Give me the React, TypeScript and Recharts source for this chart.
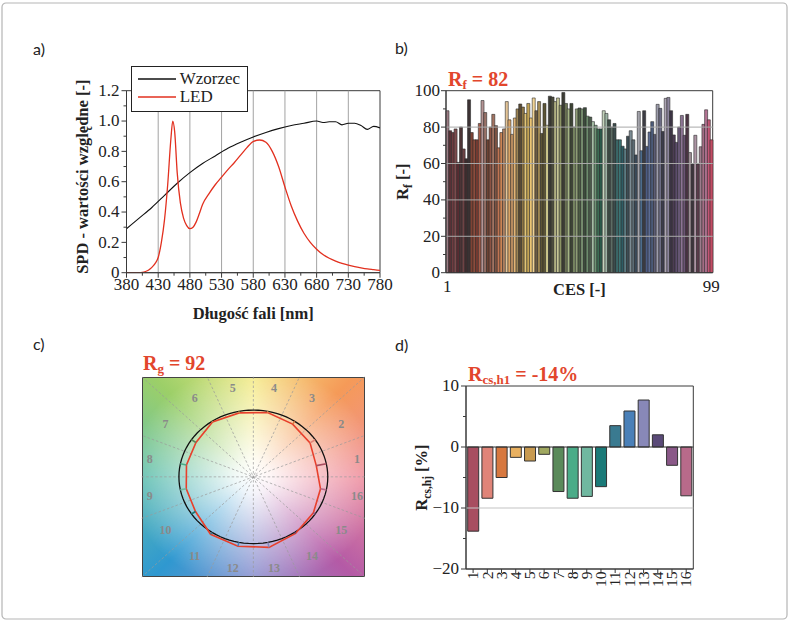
import React from "react";
import {
  ComposedChart,
  BarChart,
  Bar,
  Line,
  Scatter,
  XAxis,
  YAxis,
  CartesianGrid,
  ReferenceLine,
  Legend,
  Cell,
} from "recharts";

/* ---------------- a) SPD: reference vs LED ---------------- */
const REF_NM = [380, 400, 420, 440, 460, 480, 500, 520, 540, 560, 580, 600, 620, 640, 660, 680, 690, 700, 710, 720, 730, 740, 750, 760, 770, 780];
const REF_SPD = [0.29, 0.36, 0.43, 0.51, 0.59, 0.66, 0.72, 0.77, 0.82, 0.86, 0.895, 0.925, 0.95, 0.97, 0.985, 1.0, 0.99, 0.995, 0.995, 0.975, 0.985, 0.985, 0.97, 0.945, 0.965, 0.955];

const LED_NM = [380, 390, 400, 405, 410, 415, 420, 425, 430, 435, 440, 445, 450, 453, 456, 460, 465, 470, 475, 480, 485, 490, 495, 500, 510, 520, 530, 540, 550, 560, 570, 580, 590, 600, 610, 620, 630, 640, 650, 660, 670, 680, 690, 700, 710, 720, 730, 740, 750, 760, 770, 780];
const LED_SPD = [0, 0, 0, 0.002, 0.008, 0.018, 0.035, 0.06, 0.1, 0.2, 0.35, 0.58, 0.88, 1.0, 0.93, 0.66, 0.46, 0.36, 0.31, 0.29, 0.3, 0.335, 0.39, 0.45, 0.52, 0.58, 0.63, 0.68, 0.725, 0.775, 0.825, 0.865, 0.875, 0.86, 0.8, 0.7, 0.565, 0.44, 0.34, 0.26, 0.2, 0.155, 0.12, 0.095, 0.077, 0.062, 0.05, 0.04, 0.032, 0.025, 0.02, 0.015];

const SPD_SERIES = [
  { name: "Wzorzec", color: "#111111" },
  { name: "LED", color: "#e2301f" },
];

const SPD_X_MAJOR = [380, 430, 480, 530, 580, 630, 680, 730, 780];
const SPD_X_ALL = [380, 405, 430, 455, 480, 505, 530, 555, 580, 605, 630, 655, 680, 705, 730, 755, 780];
const SPD_Y_MAJOR = [0, 0.2, 0.4, 0.6, 0.8, 1.0, 1.2];
const SPD_Y_ALL = [0, 0.1, 0.2, 0.3, 0.4, 0.5, 0.6, 0.7, 0.8, 0.9, 1.0, 1.1, 1.2];

/* ---------------- b) Rf for the 99 CES ---------------- */
const CES_RF = [
  89, 78, 77, 79, 60.6, 80, 68, 62.6, 95, 77,
  73, 73, 82, 94.6, 88, 73, 80, 87, 80.8, 68.6,
  77, 79, 94, 84, 76, 85, 90, 92.7, 91, 87.5,
  93, 85, 96, 89, 94, 76.5, 93, 81, 97, 96.5,
  94, 96, 92, 99, 93, 90, 93, 80, 90, 90.5,
  90, 90.7, 86, 85.5, 83, 81, 79, 79, 89, 87.5,
  84, 80, 82, 73, 73, 69.5, 68, 75, 78, 73,
  64.7, 88.6, 67, 89, 69.4, 77.3, 83, 76, 92.5, 90.3,
  77.6, 95.8, 96.3, 89, 75.7, 71.6, 80, 86.4, 75.5, 87,
  66, 60, 75.5, 59.7, 69.2, 81.5, 89.5, 84, 73,
];
const CES_COLORS = [
  "#9c7c84", "#5c3238", "#6e3c40", "#7c4a4c", "#5a2c32", "#4c3436", "#6e4244", "#3e2c2e", "#3c3234", "#7e4234",
  "#8c4c3c", "#7c3c32", "#a45c48", "#b49494", "#9a7268", "#6c4232", "#8c5242", "#a47462", "#7c5242", "#c27452",
  "#cc8454", "#b48462", "#e4c496", "#daa464", "#c49464", "#e2b474", "#9c8454", "#5c4c34", "#8c7444", "#e2c474",
  "#c4a454", "#eac474", "#f2d494", "#6c5c44", "#a48c54", "#5c5434", "#5c5434", "#dad494", "#3c3c34", "#4c4c3c",
  "#b4b484", "#c4c494", "#8c9464", "#3c3c34", "#6c7454", "#a4b484", "#3c4434", "#7c8c64", "#8c9c74", "#4c5c44",
  "#7c9474", "#3c4c3c", "#6c8c6c", "#4c5c4c", "#a4bca4", "#6c9474", "#3c6c54", "#2c5c4c", "#c4d4bc", "#9cb4a4",
  "#3c4c44", "#5c6c64", "#3c4c4c", "#3c6c6c", "#3c7474", "#2c5c64", "#5c7c84", "#3c4c54", "#7c8c94", "#5c6c74",
  "#3c4c5c", "#a4a4ac", "#4c6c8c", "#3c3c44", "#4c5c84", "#5c6c94", "#4c5c7c", "#5c5c74", "#9c9cac", "#6c6c84",
  "#3c3c4c", "#aca4b4", "#8c849c", "#3c3444", "#4c3c54", "#5c4c6c", "#6c5c7c", "#8c7494", "#6c5474", "#4c3444",
  "#9c8c94", "#3c343c", "#ac94a4", "#5c3c4c", "#9c7c8c", "#a46c84", "#b47494", "#c45474", "#c44c64",
];
const RF_Y_ALL = [0, 10, 20, 30, 40, 50, 60, 70, 80, 90, 100];
const RF_Y_MAJOR = [0, 20, 40, 60, 80, 100];

/* ---------------- c/d) 16 hue bins ---------------- */
const HUE_BINS = [1, 2, 3, 4, 5, 6, 7, 8, 9, 10, 11, 12, 13, 14, 15, 16];
const RCS_HJ = [-13.8, -8.4, -5.0, -1.7, -2.3, -1.2, -7.3, -8.4, -8.1, -6.5, 3.5, 5.9, 7.7, 2.0, -3.0, -8.0];
const BIN_COLORS = [
  "#a84e60", "#e08478", "#d7783f", "#e8b060", "#c89a50", "#a0a860", "#5a8a5a", "#4aac88",
  "#70b8a0", "#1a7a78", "#3a7a90", "#4a80b8", "#8888b8", "#5a4a78", "#8a5888", "#b86a8a",
];
const RCS_Y_ALL = [-20, -15, -10, -5, 0, 5, 10];
const RCS_Y_MAJOR = [-20, -10, 0, 10];

const SERIF = "'Liberation Serif', 'Times New Roman', serif";
const AXIS = "#3a3a3a";
const RED = "#e2462c";

const refData = REF_NM.map((nm, i) => ({ nm, spd: REF_SPD[i] }));
const ledData = LED_NM.map((nm, i) => ({ nm, spd: LED_SPD[i] }));
const rfData = CES_RF.map((rf, i) => ({ ces: i + 1, rf }));
const rcsData = HUE_BINS.map((bin, i) => ({ bin, rcs: RCS_HJ[i] }));

// hue angle of the centre of bin i (radians, counter-clockwise from +x)
const binAngle = (i: number) => ((i + 0.5) * 22.5 * Math.PI) / 180;

// unit reference circle
const circleData = Array.from({ length: 96 }, (_, k) => {
  const a = (k / 96) * 2 * Math.PI;
  return { x: Math.cos(a), y: Math.sin(a) };
});
const testData = HUE_BINS.map((_, i) => {
  const r = 1 + RCS_HJ[i] / 100;
  return { x: r * Math.cos(binAngle(i)), y: r * Math.sin(binAngle(i)) };
});
const binLabels = HUE_BINS.map((bin, i) => {
  const r = 1.42;
  return {
    bin,
    x: r * Math.cos(binAngle(i)),
    y: Math.max(-1.36, Math.min(1.33, r * Math.sin(binAngle(i)))),
  };
});
const spokes = [0, 1, 2, 3, 4, 5, 6, 7].map((k) => {
  const a = (k * 22.5 * Math.PI) / 180;
  const t = 1.5 / Math.max(Math.abs(Math.cos(a)), Math.abs(Math.sin(a)));
  return [
    { x: -t * Math.cos(a), y: -t * Math.sin(a) },
    { x: t * Math.cos(a), y: t * Math.sin(a) },
  ];
});

/* ---------------- tick / title helpers ---------------- */
const isMajor = (v: number, majors: number[]) => majors.some((m) => Math.abs(m - v) < 1e-6);
const tickText = { fontFamily: SERIF };

// box around the plot area, taken from the chart offset
const frameRows = ({ offset }: any) => [offset.top, offset.top + offset.height];
const frameCols = ({ offset }: any) => [offset.left, offset.left + offset.width];

function leftTick(majors: number[], fmt: (v: number) => string, fontSize: number, gap: number) {
  return (props: any) => {
    const { x, y, payload } = props;
    const major = isMajor(payload.value, majors);
    return (
      <g>
        <line x1={x} x2={x - (major ? 5 : 3)} y1={y} y2={y} stroke={AXIS} />
        {major && (
          <text x={x - gap} y={y} dy="0.32em" textAnchor="end" style={tickText} fontFamily={SERIF} fontSize={fontSize} fill="#222">
            {fmt(payload.value)}
          </text>
        )}
      </g>
    );
  };
}

function bottomTick(majors: number[], fontSize: number, base: number, lines = true) {
  return (props: any) => {
    const { x, y, payload } = props;
    const major = isMajor(payload.value, majors);
    return (
      <g>
        {lines && <line x1={x} x2={x} y1={y} y2={y + (major ? 5 : 3)} stroke={AXIS} />}
        {major && (
          <text x={x} y={y + base} textAnchor="middle" style={tickText} fontFamily={SERIF} fontSize={fontSize} fill="#222">
            {payload.value}
          </text>
        )}
      </g>
    );
  };
}

function binTick(props: any) {
  const { x, y, payload } = props;
  const ty = y + 2.5;
  return (
    <g>
      <line x1={x} x2={x} y1={y} y2={y + 4} stroke={AXIS} />
      <text x={x} y={ty} dy="0.34em" transform={`rotate(-90 ${x} ${ty})`} textAnchor="end" style={tickText} fontFamily={SERIF} fontSize={15.5} fill="#222">
        {payload.value}
      </text>
    </g>
  );
}

function yTitle(content: React.ReactNode, dx: number, dy = 0) {
  return (props: any) => {
    const vb = props.viewBox || { x: 0, y: 0, width: 0, height: 0 };
    const cx = vb.x + dx;
    const cy = vb.y + vb.height / 2 + dy;
    return (
      <text x={cx} y={cy} dy="0.35em" transform={`rotate(-90 ${cx} ${cy})`} textAnchor="middle" style={tickText} fontFamily={SERIF} fontWeight="bold" fontSize={16.5} fill="#222">
        {content}
      </text>
    );
  };
}

function xTitle(content: React.ReactNode, dy: number) {
  return (props: any) => {
    const vb = props.viewBox || { x: 0, y: 0, width: 0, height: 0 };
    return (
      <text x={vb.x + vb.width / 2} y={vb.y + dy} textAnchor="middle" style={tickText} fontFamily={SERIF} fontWeight="bold" fontSize={16.5} fill="#222">
        {content}
      </text>
    );
  };
}

function SpdLegend() {
  return (
    <div style={{ width: 117, height: 46, boxSizing: "border-box", border: "1px solid #222", background: "#fff", paddingTop: 3 }}>
      {SPD_SERIES.map((s) => (
        <div key={s.name} style={{ display: "flex", alignItems: "center", height: 18 }}>
          <svg width={48} height={18}>
            <line x1={6} x2={44} y1={9} y2={9} stroke={s.color} strokeWidth={1.3} />
          </svg>
          <span style={{ fontFamily: SERIF, fontSize: 17, color: "#222", lineHeight: "18px" }}>{s.name}</span>
        </div>
      ))}
    </div>
  );
}

/* ---------------- panels ---------------- */
function SpdChart() {
  return (
    <ComposedChart width={345} height={275} margin={{ top: 35.7, right: 20, left: 21.5, bottom: 32.3 }}>
      <CartesianGrid stroke={AXIS} horizontalCoordinatesGenerator={frameRows} verticalCoordinatesGenerator={frameCols} />
      <XAxis
        type="number"
        dataKey="nm"
        domain={[380, 780]}
        ticks={SPD_X_ALL}
        interval={0}
        height={25}
        tickLine={false}
        tickSize={0}
        tickMargin={0}
        axisLine={{ stroke: AXIS }}
        tick={bottomTick(SPD_X_MAJOR, 17, 17.4)}
        label={xTitle("Długość fali [nm]", 46.5)}
        allowDataOverflow
      />
      <YAxis
        type="number"
        domain={[0, 1.2]}
        ticks={SPD_Y_ALL}
        interval={0}
        width={50}
        tickLine={false}
        tickSize={0}
        tickMargin={0}
        axisLine={{ stroke: AXIS }}
        tick={leftTick(SPD_Y_MAJOR, (v) => (v === 0 ? "0" : v.toFixed(1)), 17, 7)}
        label={yTitle("SPD - wartości względne [-]", 5.5, -5)}
        allowDataOverflow
      />
      {SPD_X_MAJOR.slice(1, -1).map((v) => (
        <ReferenceLine key={v} x={v} stroke="#a3a3a3" strokeWidth={1} />
      ))}
      <Line data={refData} dataKey="spd" name={SPD_SERIES[0].name} type="monotone" stroke={SPD_SERIES[0].color} strokeWidth={1.1} dot={false} isAnimationActive={false} />
      <Line data={ledData} dataKey="spd" name={SPD_SERIES[1].name} type="monotone" stroke={SPD_SERIES[1].color} strokeWidth={1.3} dot={false} isAnimationActive={false} />
      <Legend
        layout="vertical"
        align="center"
        verticalAlign="middle"
        content={SpdLegend}
        wrapperStyle={{ left: 75.7, top: 11, width: 117, height: 46 }}
      />
    </ComposedChart>
  );
}

function RfChart() {
  return (
    <BarChart width={345} height={255} data={rfData} margin={{ top: 30.7, right: 17.3, left: 5, bottom: 7.3 }} barCategoryGap={0} barGap={0}>
      <CartesianGrid stroke={AXIS} horizontalCoordinatesGenerator={frameRows} verticalCoordinatesGenerator={frameCols} />
      <XAxis
        dataKey="ces"
        ticks={[1, 99]}
        interval={0}
        height={35}
        tickLine={false}
        tickSize={0}
        tickMargin={0}
        axisLine={{ stroke: AXIS }}
        tick={bottomTick([1, 99], 17, 19, false)}
        label={xTitle("CES [-]", 22.3)}
      />
      <YAxis
        type="number"
        domain={[0, 100]}
        ticks={RF_Y_ALL}
        interval={0}
        width={56}
        tickLine={false}
        tickSize={0}
        tickMargin={0}
        axisLine={{ stroke: AXIS }}
        tick={leftTick(RF_Y_MAJOR, (v) => String(v), 17, 6)}
        label={yTitle(
          <>
            R<tspan fontSize={11.5} dy={4}>f</tspan>
            <tspan dy={-4}> [-]</tspan>
          </>,
          12
        )}
        allowDataOverflow
      />
      <Bar dataKey="rf" stroke="#2b2b2b" strokeWidth={0.6} isAnimationActive={false}>
        {CES_COLORS.map((c, i) => (
          <Cell key={i} fill={c} />
        ))}
      </Bar>
      {RF_Y_MAJOR.slice(1, -1).map((v) => (
        <ReferenceLine key={v} y={v} stroke="#a8a8a8" strokeWidth={1} />
      ))}
    </BarChart>
  );
}

function GamutChart() {
  return (
    <ComposedChart width={250} height={225} margin={{ top: 11.7, right: 15, left: 11.7, bottom: 13 }}>
      <XAxis type="number" dataKey="x" domain={[-1.5, 1.5]} hide allowDataOverflow />
      <YAxis type="number" dataKey="y" domain={[-1.5, 1.5]} hide allowDataOverflow />
      {spokes.map((seg, k) => (
        <ReferenceLine key={k} segment={seg} stroke="#9a9a9a" strokeWidth={0.7} strokeDasharray="2.5 2" ifOverflow="visible" />
      ))}
      <Line data={circleData} dataKey="y" type="linearClosed" stroke="#111" strokeWidth={1.3} dot={false} isAnimationActive={false} />
      <Line data={testData} dataKey="y" type="linearClosed" stroke="#e8402c" strokeWidth={1.6} dot={false} isAnimationActive={false} />
      {HUE_BINS.map((bin, i) => (
        <ReferenceLine
          key={bin}
          segment={[
            { x: Math.cos(binAngle(i)), y: Math.sin(binAngle(i)) },
            { x: testData[i].x, y: testData[i].y },
          ]}
          stroke={BIN_COLORS[i]}
          strokeWidth={1.6}
          ifOverflow="visible"
        />
      ))}
      <Scatter
        data={binLabels}
        isAnimationActive={false}
        shape={(p: any) => (
          <text x={p.cx} y={p.cy} dy="0.35em" textAnchor="middle" style={tickText} fontFamily={SERIF} fontWeight="bold" fontSize={12} fill="#8a8a8a">
            {p.payload.bin}
          </text>
        )}
      />
    </ComposedChart>
  );
}

function RcsChart() {
  return (
    <BarChart width={345} height={250} data={rcsData} margin={{ top: 26, right: 36.7, left: 5, bottom: 11 }} barCategoryGap="12%">
      <CartesianGrid stroke={AXIS} horizontalCoordinatesGenerator={frameRows} verticalCoordinatesGenerator={frameCols} />
      <XAxis dataKey="bin" interval={0} height={30} tickLine={false} tickSize={0} tickMargin={0} axisLine={{ stroke: AXIS }} tick={binTick} />
      <YAxis
        type="number"
        domain={[-20, 10]}
        ticks={RCS_Y_ALL}
        interval={0}
        width={76}
        tickLine={false}
        tickSize={0}
        tickMargin={0}
        axisLine={{ stroke: AXIS }}
        tick={leftTick(RCS_Y_MAJOR, (v) => (v < 0 ? `\u2212${-v}` : String(v)), 17, 7)}
        label={yTitle(
          <>
            R<tspan fontSize={11.5} dy={4}>cs,hj</tspan>
            <tspan dy={-4}> [%]</tspan>
          </>,
          31.5
        )}
        allowDataOverflow
      />
      <ReferenceLine y={-10} stroke="#c4c4c4" strokeWidth={1.2} />
      <Bar dataKey="rcs" stroke="#333" strokeWidth={1} isAnimationActive={false}>
        {BIN_COLORS.map((c, i) => (
          <Cell key={i} fill={c} />
        ))}
      </Bar>
      <ReferenceLine y={0} stroke="#333" strokeWidth={1.2} />
    </BarChart>
  );
}

function Place({ left, top, children }: { left: number; top: number; children: React.ReactNode }) {
  return <div style={{ position: "absolute", left, top }}>{children}</div>;
}

export default function App() {
  const letter = { fontFamily: "Lato, 'Open Sans', sans-serif", fontSize: 16, fill: "#222" };
  const title = { fontFamily: SERIF, fontWeight: "bold" as const, fontSize: 20, fill: RED };
  return (
    <div style={{ position: "absolute", left: 0, top: 0, width: 790, height: 623, background: "#fff", overflow: "hidden" }}>
      <svg width={790} height={623} style={{ position: "absolute", left: 0, top: 0 }}>
        <rect x={2} y={3} width={785} height={616} rx={4} fill="none" stroke="#b5b5b5" strokeWidth={1.2} />
        <text x={33} y={55} {...letter}>a)</text>
        <text x={395} y={54} {...letter}>b)</text>
        <text x={33} y={350} {...letter}>c)</text>
        <text x={395} y={351} {...letter}>d)</text>
        <text x={448} y={86} {...title}>
          R<tspan fontSize={13} dy={3}>f</tspan>
          <tspan dy={-3}> = 82</tspan>
        </text>
        <text x={143} y={370} {...title}>
          R<tspan fontSize={13} dy={3}>g</tspan>
          <tspan dy={-3}> = 92</tspan>
        </text>
        <text x={468} y={381} {...title}>
          R<tspan fontSize={13} dy={3}>cs,h1</tspan>
          <tspan dy={-3}> = -14%</tspan>
        </text>
      </svg>

      <div
        style={{
          position: "absolute",
          left: 141.7,
          top: 376.7,
          width: 223.3,
          height: 200.3,
          boxSizing: "border-box",
          border: "1px solid #444",
          background:
            "radial-gradient(ellipse at center, rgba(255,255,255,1) 0%, rgba(255,255,255,0.9) 12%, rgba(255,255,255,0.45) 45%, rgba(255,255,255,0) 80%), conic-gradient(from 90deg at 50% 50%, #ef8f9e 0deg, #b45aa6 45deg, #8c92d0 90deg, #2f98d0 135deg, #62c0b0 180deg, #9ccf68 225deg, #f5eb8a 270deg, #f59a58 315deg, #ef8f9e 360deg)",
        }}
      />

      <Place left={55} top={55}>
        <SpdChart />
      </Place>
      <Place left={385} top={60}>
        <RfChart />
      </Place>
      <Place left={130} top={365}>
        <GamutChart />
      </Place>
      <Place left={385} top={360}>
        <RcsChart />
      </Place>
    </div>
  );
}
